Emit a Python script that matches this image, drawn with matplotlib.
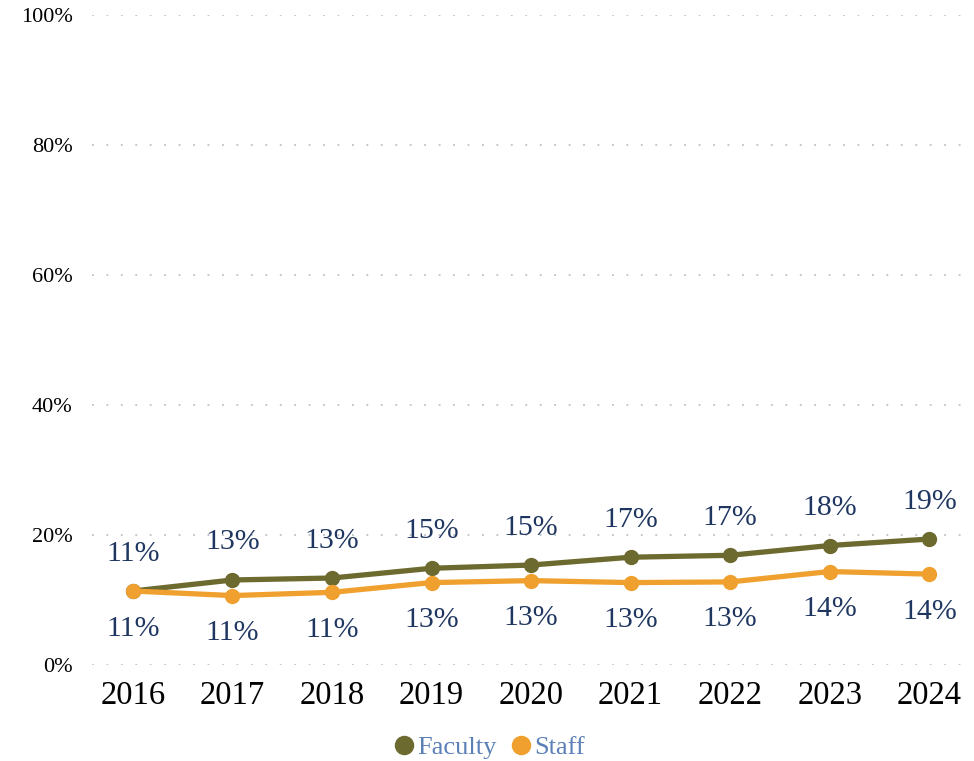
import matplotlib
matplotlib.use("Agg")
import matplotlib.pyplot as plt
import numpy as np

plt.rcParams["font.family"] = ["Liberation Serif", "DejaVu Serif"]

# Data
years = ["2016", "2017", "2018", "2019", "2020", "2021", "2022", "2023", "2024"]
faculty = [11.4, 13.1, 13.4, 14.9, 15.4, 16.6, 16.9, 18.4, 19.4]
staff = [11.4, 10.7, 11.2, 12.7, 13.0, 12.7, 12.8, 14.4, 14.0]
y_ticks = [0, 20, 40, 60, 80, 100]

faculty_color = "#6d6a30"
staff_color = "#f0a02e"
label_color = "#1f3660"

fig = plt.figure(figsize=(9.74, 7.61), dpi=100)
ax = fig.add_axes([0.0945, 0.126, 0.9015, 0.854])

x = np.arange(len(years))

#Gridlines
ax.set_yticks(y_ticks)
ax.set_yticklabels(["{}%".format(t) for t in y_ticks])
ax.grid(axis="y", color="#bcc0c8", linestyle=(0, (1, 7)), linewidth=1.3)
ax.set_axisbelow(True)

ax.plot(x, faculty, "o-", color=faculty_color, lw=3.8, ms=10, label="Faculty", zorder=3)
ax.plot(x, staff, "o-", color=staff_color, lw=3.8, ms=10, label="Staff", zorder=4)

for i in x:
    ax.annotate("{:.0f}%".format(faculty[i]), (i, faculty[i]), textcoords="offset points",
                xytext=(0, 27), ha="center", va="center", fontsize=21.5, color=label_color)
    ax.annotate("{:.0f}%".format(staff[i]), (i, staff[i]), textcoords="offset points",
                xytext=(0, -27), ha="center", va="center", fontsize=21.5, color=label_color)

ax.set_xticks(x)
ax.set_xticklabels(years, fontsize=23.5)
ax.set_xlim(-0.41, 8.41)
ax.set_ylim(0, 100)
ax.tick_params(axis="both", length=0)
ax.tick_params(axis="y", labelsize=16, pad=14)
ax.tick_params(axis="x", pad=11)
for s in ax.spines.values():
    s.set_visible(False)

leg = fig.legend(loc="lower center", bbox_to_anchor=(0.503, -0.029), ncol=2, frameon=False,
                 fontsize=19, handlelength=0.7, handletextpad=0.15, columnspacing=0.6,
                 markerscale=1.3)
for h in leg.legend_handles:
    h.set_linestyle("none")
for t in leg.get_texts():
    t.set_color("#5b80b8")

fig.savefig("out.png", dpi=100)
